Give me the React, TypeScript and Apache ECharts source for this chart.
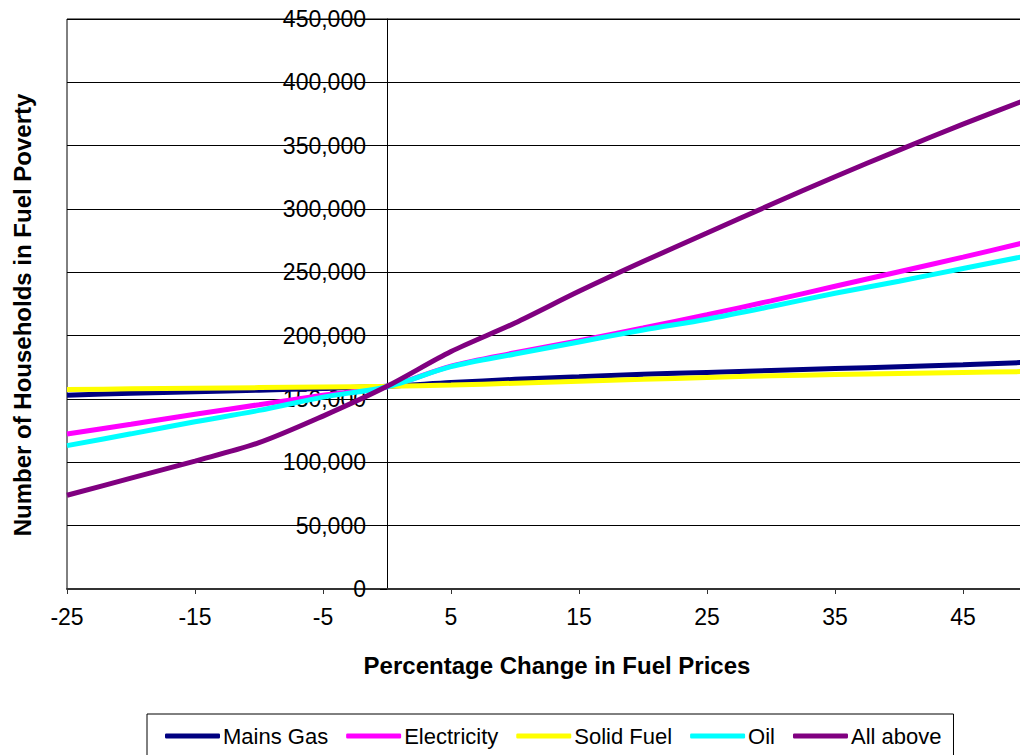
import React, { useEffect, useRef } from "react";
import * as echarts from "echarts";

const pctChange = [-25, -20, -15, -10, -5, 0, 5, 10, 15, 20, 25, 30, 35, 40, 45, 50];
const mainsGas = [153000, 154500, 155800, 157000, 158300, 160000, 163000, 165500, 167500, 169500, 171000, 172500, 174000, 175500, 177000, 179000];
const electricity = [122400, 130000, 138000, 145500, 153000, 159700, 176000, 186500, 196000, 206000, 216500, 227500, 239000, 250500, 262000, 274000];
const solidFuel = [157500, 158000, 158500, 159000, 159500, 160000, 161000, 162500, 164000, 165500, 167000, 168300, 169300, 170200, 171000, 171700];
const oil = [113200, 122500, 132000, 141000, 151500, 159700, 175500, 185500, 195000, 204500, 213000, 223000, 233500, 243000, 253000, 263000];
const allAbove = [74000, 87500, 101000, 115500, 136500, 160000, 187500, 210000, 235000, 258500, 281000, 303500, 325500, 346500, 367000, 386500];

const seriesNames = ["Mains Gas", "Electricity", "Solid Fuel", "Oil", "All above"];
const seriesColors = ["#000080", "#FF00FF", "#FFFF00", "#00FFFF", "#800080"];
const seriesValues = [mainsGas, electricity, solidFuel, oil, allAbove];

const xTitle = "Percentage Change in Fuel Prices";
const yTitle = "Number of Households in Fuel Poverty";

const FONT = '"Liberation Sans", Arial, sans-serif';

export default function App() {
  const ref = useRef<HTMLDivElement>(null);
  useEffect(() => {
    document.body.style.margin = "0";
    if (!ref.current) return;
    const chart = echarts.init(ref.current, undefined, { renderer: "svg" });
    chart.setOption({
      animation: false,
      backgroundColor: "#ffffff",
      textStyle: { fontFamily: FONT },
      grid: {
        left: 67,
        top: 19,
        right: -7,
        bottom: 166,
        containLabel: false,
        outerBoundsMode: "none",
        show: true,
        borderColor: "#000",
        borderWidth: 1,
        backgroundColor: "transparent",
      },
      legend: {
        data: seriesNames.map((n) => ({ name: n, icon: "roundRect" })),
        left: 147,
        top: 714,
        itemWidth: 55,
        itemHeight: 5,
        itemGap: 18,
        padding: [11, 12, 11, 18],
        borderColor: "#000",
        borderWidth: 1,
        textStyle: { fontSize: 22, color: "#000", fontFamily: FONT, padding: [0, 0, 0, -2] },
      },
      xAxis: {
        type: "value",
        min: -25,
        max: 50,
        interval: 10,
        axisLine: { show: true, onZero: false, lineStyle: { color: "#333", width: 2 } },
        axisTick: { show: true, length: 5, lineStyle: { color: "#333", width: 1 } },
        axisLabel: { fontSize: 23, color: "#000", margin: 16, showMaxLabel: false, fontFamily: FONT },
        splitLine: { show: false },
      },
      yAxis: {
        type: "value",
        position: "left",
        offset: -320,
        min: 0,
        max: 450000,
        interval: 50000,
        axisLine: { show: true, onZero: false, lineStyle: { color: "#000", width: 1 } },
        axisTick: { show: true, length: 7, lineStyle: { color: "#000", width: 1 } },
        axisLabel: {
          fontSize: 23,
          color: "#000",
          margin: 21,
          fontFamily: FONT,
          formatter: (v: number) => v.toLocaleString("en-US"),
        },
        splitLine: { show: true, lineStyle: { color: "#000", width: 1 } },
      },
      graphic: [
        {
          type: "text",
          x: 557,
          y: 665,
          style: {
            text: xTitle,
            font: `bold 24px ${FONT}`,
            fill: "#000",
            align: "center",
            verticalAlign: "middle",
          },
        },
        {
          type: "text",
          x: 22,
          y: 315,
          rotation: Math.PI / 2,
          style: {
            text: yTitle,
            font: `bold 24px ${FONT}`,
            fill: "#000",
            align: "center",
            verticalAlign: "middle",
          },
        },
      ],
      series: seriesNames.map((name, i) => ({
        name,
        type: "line",
        smooth: 0.3,
        symbol: "none",
        color: seriesColors[i],
        lineStyle: { color: seriesColors[i], width: 5 },
        data: pctChange.map((x, j) => [x, seriesValues[i][j]]),
      })),
    });
    return () => chart.dispose();
  }, []);
  return <div ref={ref} style={{ width: 1020, height: 755 }} />;
}
